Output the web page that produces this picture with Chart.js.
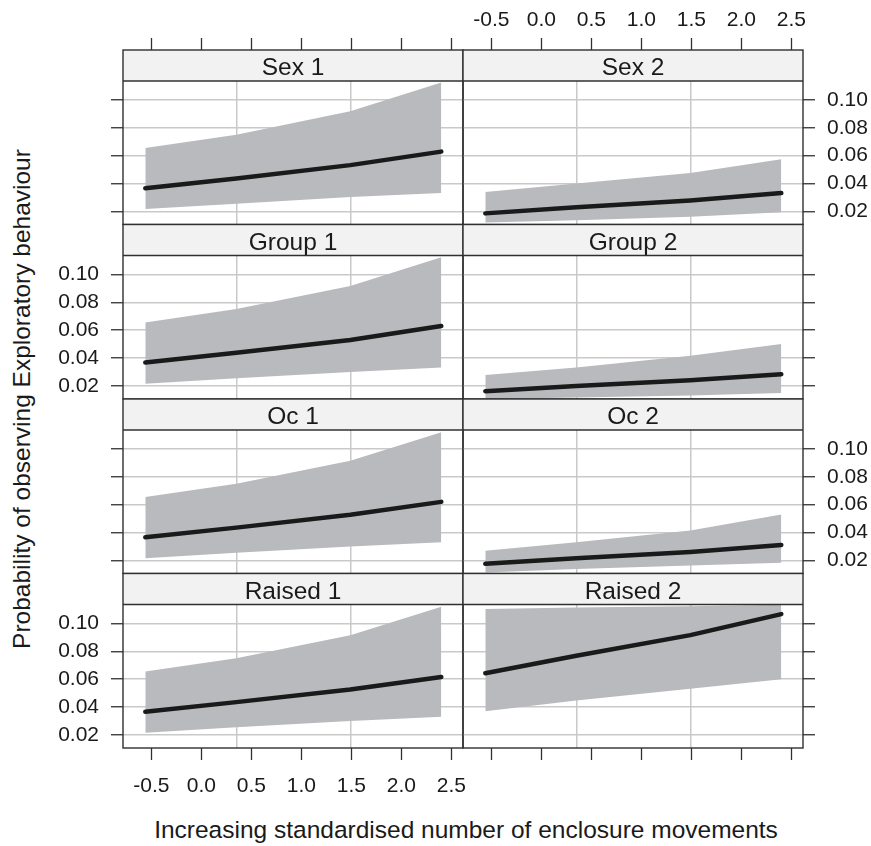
<!DOCTYPE html>
<html>
<head>
<meta charset="utf-8">
<script src="https://cdn.jsdelivr.net/npm/chart.js@4.4.0/dist/chart.umd.min.js"></script>
<style>
  body { margin: 0; background: #fff; }
  #wrap { position: relative; width: 871px; height: 846px; font-family: "Liberation Sans", Arial, sans-serif; color: #1a1a1a; }
  #wrap canvas { position: absolute; left: 0; top: 0; }
  .ytitle { position: absolute; left: 22px; top: 399px; transform: translate(-50%, -50%) rotate(-90deg); white-space: nowrap; font-size: 24.5px; }
  .xtitle { position: absolute; left: 466px; top: 830px; transform: translate(-50%, -50%); white-space: nowrap; font-size: 24.5px; }
</style>
</head>
<body>
<div id="wrap">
  <div class="ytitle">Probability of observing Exploratory behaviour</div>
  <div class="xtitle">Increasing standardised number of enclosure movements</div>
</div>
<script>
// x positions where the effect was evaluated
const xValues = [-0.56, 0.35, 1.49, 2.40];
const xTicks = [-0.5, 0, 0.5, 1, 1.5, 2, 2.5];
const xGrid = [0.35, 1.49];
const yTicks = [0.02, 0.04, 0.06, 0.08, 0.10];

const panelLabels = ['Sex 1', 'Sex 2', 'Group 1', 'Group 2', 'Oc 1', 'Oc 2', 'Raised 1', 'Raised 2'];

const sex1Fit = [0.0365, 0.0436, 0.0532, 0.0629];
const sex1Lo  = [0.0217, 0.0255, 0.0302, 0.0331];
const sex1Hi  = [0.0655, 0.0751, 0.0920, 0.1127];

const sex2Fit = [0.0185, 0.0229, 0.0278, 0.0331];
const sex2Lo  = [0.0120, 0.0135, 0.0160, 0.0193];
const sex2Hi  = [0.0338, 0.0399, 0.0476, 0.0574];

const group1Fit = [0.0367, 0.0437, 0.0530, 0.0630];
const group1Lo  = [0.0215, 0.0255, 0.0300, 0.0331];
const group1Hi  = [0.0655, 0.0752, 0.0918, 0.1125];

const group2Fit = [0.0161, 0.0198, 0.0239, 0.0283];
const group2Lo  = [0.0105, 0.0115, 0.0130, 0.0149];
const group2Hi  = [0.0278, 0.0331, 0.0416, 0.0501];

const oc1Fit = [0.0366, 0.0435, 0.0528, 0.0620];
const oc1Lo  = [0.0215, 0.0255, 0.0300, 0.0330];
const oc1Hi  = [0.0655, 0.0750, 0.0915, 0.1120];

const oc2Fit = [0.0175, 0.0215, 0.0260, 0.0310];
const oc2Lo  = [0.0113, 0.0138, 0.0162, 0.0183];
const oc2Hi  = [0.0268, 0.0329, 0.0414, 0.0530];

const raised1Fit = [0.0365, 0.0435, 0.0525, 0.0615];
const raised1Lo  = [0.0215, 0.0255, 0.0300, 0.0329];
const raised1Hi  = [0.0655, 0.0750, 0.0915, 0.1121];

const raised2Fit = [0.0643, 0.0768, 0.0917, 0.1068];
const raised2Lo  = [0.0370, 0.0446, 0.0532, 0.0600];
const raised2Hi  = [0.1105, 0.1115, 0.1125, 0.1135];

const fits = [sex1Fit, sex2Fit, group1Fit, group2Fit, oc1Fit, oc2Fit, raised1Fit, raised2Fit];
const lows = [sex1Lo, sex2Lo, group1Lo, group2Lo, oc1Lo, oc2Lo, raised1Lo, raised2Lo];
const highs = [sex1Hi, sex2Hi, group1Hi, group2Hi, oc1Hi, oc2Hi, raised1Hi, raised2Hi];

// layout of the lattice (pixels)
const W = 871, H = 846;
const colLeft = 123, colW = 340;
const rowTop = 50, rowH = 174.5, stripH = 31;
const plotH = rowH - stripH;
const leftAxisW = 90, rightAxisW = 68, xAxisH = 45;

const xMin = -0.783, xMax = 2.617;
const yMin = 0.0105, yPlotMax = 0.1137;
const yMax = yPlotMax + (yPlotMax - yMin) * stripH / plotH;

const bandColor = '#b9babd';
const gridColor = '#c9c9c9';
const frameColor = '#303030';

Chart.defaults.font.family = '"Liberation Sans", Arial, sans-serif';
Chart.defaults.color = '#1a1a1a';

const pts = arr => arr.map((v, i) => ({ x: xValues[i], y: v }));

function stripPlugin(label) {
    return {
        id: 'strip',
        beforeDatasetsDraw(chart) {
            const { ctx, chartArea: a } = chart;
            const sb = chart.scales.y.getPixelForValue(yPlotMax);
            ctx.save();
            ctx.fillStyle = '#f2f2f2';
            ctx.fillRect(a.left, a.top, a.right - a.left, sb - a.top);
            ctx.fillStyle = '#1a1a1a';
            ctx.font = '24.5px "Liberation Sans", Arial, sans-serif';
            ctx.textAlign = 'center';
            ctx.textBaseline = 'middle';
            ctx.fillText(label, (a.left + a.right) / 2, (a.top + sb) / 2 + 3);
            ctx.restore();
        },
        afterDatasetsDraw(chart) {
            const { ctx, chartArea: a } = chart;
            const sb = chart.scales.y.getPixelForValue(yPlotMax);
            ctx.save();
            ctx.strokeStyle = frameColor;
            ctx.lineWidth = 1.4;
            ctx.strokeRect(a.left, a.top, a.right - a.left, a.bottom - a.top);
            ctx.beginPath();
            ctx.moveTo(a.left, sb);
            ctx.lineTo(a.right, sb);
            ctx.stroke();
            ctx.restore();
        }
    };
}

const wrap = document.getElementById('wrap');

panelLabels.forEach((label, k) => {
    const row = Math.floor(k / 2), col = k % 2;
    const cv = document.createElement('canvas');
    cv.width = W; cv.height = H;
    wrap.appendChild(cv);

    const left = colLeft + col * colW;
    const top = rowTop + row * rowH;
    const xShown = row === 0 || row === 3;
    const xLabels = (row === 0 && col === 1) || (row === 3 && col === 0);
    const yLabels = (col === 0 && (row === 1 || row === 3)) || (col === 1 && (row === 0 || row === 2));
    const yW = col === 0 ? leftAxisW : rightAxisW;

    // padding leaves room for the fixed-size axis boxes so the panel lands on its cell
    const pad = {
        left: col === 0 ? left - yW : left,
        right: col === 1 ? W - left - colW - yW : W - left - colW,
        top: row === 0 ? top - xAxisH : top,
        bottom: row === 3 ? H - top - rowH - xAxisH : H - top - rowH
    };

    new Chart(cv, {
        type: 'line',
        data: {
            datasets: [
                { data: pts(fits[k]), borderColor: '#1a1a1a', borderWidth: 4.5, pointRadius: 0,
                  borderCapStyle: 'round', borderJoinStyle: 'round', fill: false },
                { data: pts(highs[k]), borderWidth: 0, pointRadius: 0, backgroundColor: bandColor, fill: '+1' },
                { data: pts(lows[k]), borderWidth: 0, pointRadius: 0, fill: false }
            ]
        },
        options: {
            responsive: false,
            animation: false,
            events: [],
            layout: { padding: pad },
            plugins: { legend: { display: false }, tooltip: { enabled: false } },
            scales: {
                x: {
                    type: 'linear', min: xMin, max: xMax,
                    display: xShown,
                    position: row === 0 ? 'top' : 'bottom',
                    afterBuildTicks: s => { s.ticks = xTicks.map(v => ({ value: v })); },
                    afterFit: s => { s.height = xShown ? xAxisH : 0; },
                    border: { display: false },
                    grid: { drawOnChartArea: false, drawTicks: true, tickLength: 12, tickColor: frameColor, tickWidth: 1.3 },
                    ticks: {
                        autoSkip: false, maxRotation: 0, font: { size: 21 },
                        padding: row === 0 ? 5 : 14,
                        callback: v => xLabels ? Number(v).toFixed(1) : ''
                    }
                },
                xg: {
                    type: 'linear', axis: 'x', min: xMin, max: xMax,
                    position: 'bottom',
                    afterBuildTicks: s => { s.ticks = xGrid.map(v => ({ value: v })); },
                    afterFit: s => { s.height = 0; },
                    border: { display: false },
                    grid: { color: gridColor, lineWidth: 1.5, drawTicks: false },
                    ticks: { display: false }
                },
                y: {
                    type: 'linear', min: yMin, max: yMax,
                    position: col === 0 ? 'left' : 'right',
                    afterBuildTicks: s => { s.ticks = yTicks.map(v => ({ value: v })); },
                    afterFit: s => { s.width = yW; },
                    border: { display: false },
                    grid: { color: gridColor, lineWidth: 1.5, drawTicks: true, tickLength: 12, tickColor: frameColor, tickWidth: 1.3 },
                    ticks: {
                        autoSkip: false, font: { size: 21 }, padding: 12,
                        callback: v => yLabels ? Number(v).toFixed(2) : ''
                    }
                }
            }
        },
        plugins: [stripPlugin(label)]
    });
});
</script>
</body>
</html>
